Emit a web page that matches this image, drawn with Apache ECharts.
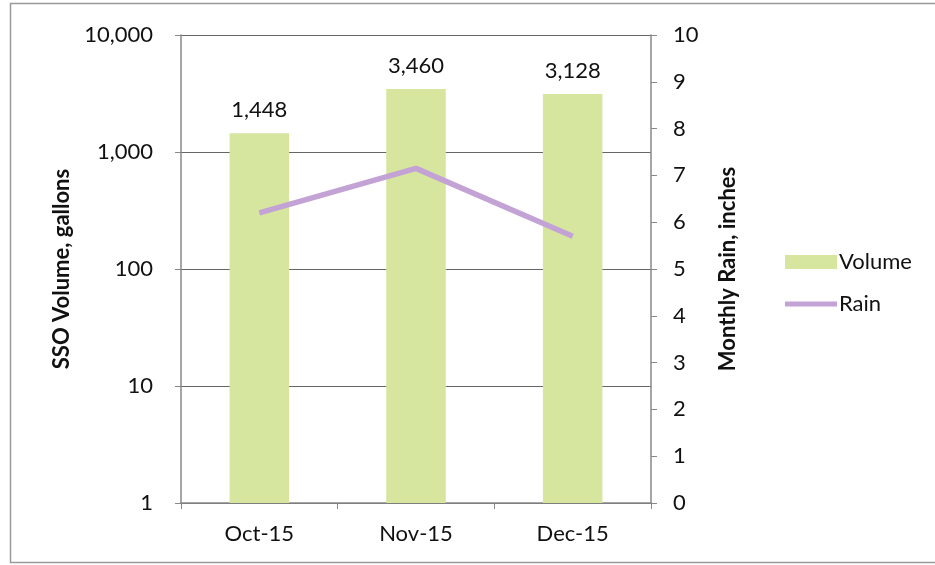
<!DOCTYPE html>
<html><head><meta charset="utf-8">
<script src="https://cdn.jsdelivr.net/npm/echarts@6/dist/echarts.min.js"></script>
<style>html,body{margin:0;padding:0;background:#fff}#c{width:935px;height:565px}</style>
</head><body><div id="c"></div>
<script>
const categories = ['Oct-15', 'Nov-15', 'Dec-15'];
const volume = [1448, 3460, 3128];
const rain = [6.2, 7.15, 5.7];

const FONT = 'Lato';
const chart = echarts.init(document.getElementById('c'));
chart.setOption({
  animation: false,
  textStyle: { fontFamily: FONT },
  graphic: [{
    type: 'rect', shape: { x: 10.5, y: 3.5, width: 940, height: 559 },
    style: { fill: 'none', stroke: '#9a9a9a', lineWidth: 1.5 }, silent: true
  }],
  grid: { left: 181, right: 284, top: 35, bottom: 62 },
  legend: {
    orient: 'vertical', left: 780, top: 246, itemGap: 20,
    itemWidth: 52, itemHeight: 14,
    textStyle: { fontFamily: FONT, fontSize: 22, color: '#111', padding: [0, 0, 0, -3] },
    data: [
      { name: 'Volume', icon: 'rect' },
      { name: 'Rain', icon: 'path://M0,0 L52,0 L52,5 L0,5 Z' }
    ]
  },
  xAxis: {
    type: 'category', data: categories,
    axisLine: { lineStyle: { color: '#888', width: 1.5 } },
    axisTick: { show: true, alignWithLabel: false, length: 6, lineStyle: { color: '#888' } },
    axisLabel: { fontFamily: FONT, fontSize: 22, color: '#111', margin: 20 }
  },
  yAxis: [{
    type: 'log', logBase: 10, min: 1, max: 10000,
    name: 'SSO Volume, gallons', nameLocation: 'middle', nameGap: 108, nameRotate: 90,
    nameTextStyle: { fontFamily: FONT, fontSize: 22, fontWeight: 'bold', color: '#111' },
    axisLine: { show: true, lineStyle: { color: '#888', width: 1.5 } },
    axisTick: { show: true, length: 6, lineStyle: { color: '#888' } },
    axisLabel: { fontFamily: FONT, fontSize: 22, color: '#111', margin: 28,
      formatter: v => Math.round(v).toLocaleString('en-US') },
    splitLine: { show: true, lineStyle: { color: '#666', width: 1.2 } },
    minorTick: { show: false }
  }, {
    type: 'value', min: 0, max: 10, interval: 1,
    name: 'Monthly Rain, inches', nameLocation: 'middle', nameGap: 66, nameRotate: 90,
    nameTextStyle: { fontFamily: FONT, fontSize: 22, fontWeight: 'bold', color: '#111' },
    axisLine: { show: true, lineStyle: { color: '#888', width: 1.5 } },
    axisTick: { show: true, length: 6, lineStyle: { color: '#888' } },
    axisLabel: { fontFamily: FONT, fontSize: 22, color: '#111', margin: 22 },
    splitLine: { show: false }
  }],
  series: [{
    name: 'Volume', type: 'bar', yAxisIndex: 0, data: volume,
    barWidth: '38%',
    itemStyle: { color: '#d6e69e' },
    label: { show: true, position: 'top', distance: 12, fontFamily: FONT, fontSize: 22, color: '#111',
      formatter: p => p.value.toLocaleString('en-US') }
  }, {
    name: 'Rain', type: 'line', yAxisIndex: 1, data: rain,
    symbol: 'none', lineStyle: { color: '#c3a3d6', width: 5.5 }, itemStyle: { color: '#c3a3d6' }
  }]
});
</script></body></html>
